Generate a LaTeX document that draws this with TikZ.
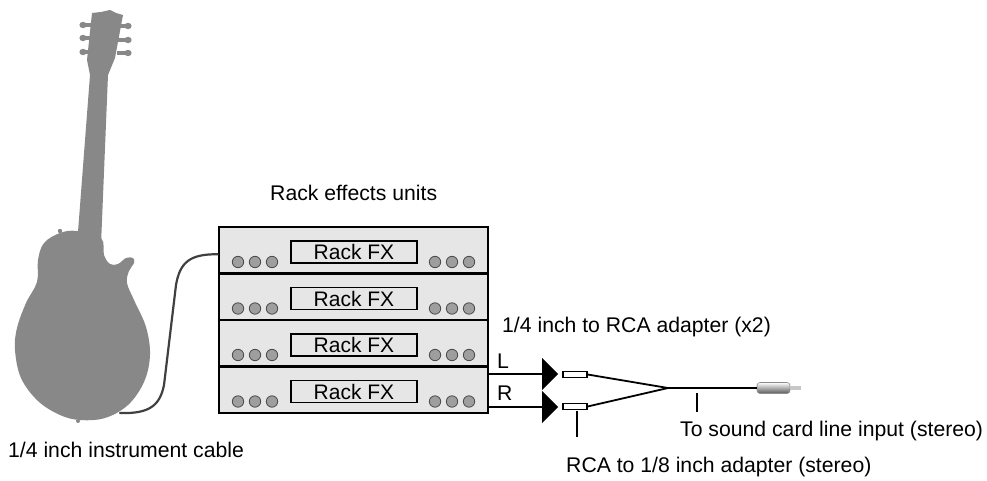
\documentclass[tikz,border=0pt]{standalone}
\usepackage{fontspec}
\setmainfont{Liberation Sans}
\usetikzlibrary{arrows.meta}
\definecolor{guitargray}{RGB}{136,136,136}
\definecolor{rackfill}{RGB}{230,230,230}
\definecolor{knobgray}{RGB}{158,158,158}
\tikzset{
  lbl/.style={font=\fontsize{21.2}{25}\selectfont,inner sep=0pt,anchor=base west},
  fxunit/.style={draw,line width=2.4pt,fill=rackfill,minimum width=269pt,minimum height=46.5pt,inner sep=0pt},
  fxlabel/.style={draw,line width=1.1pt,minimum width=126pt,minimum height=22pt,inner sep=0pt,font=\fontsize{21}{24}\selectfont},
  knob/.style={fill=knobgray,draw=black!70,line width=0.8pt},
  rca/.style={draw,fill=white,line width=1.2pt,minimum width=24pt,minimum height=6pt,inner sep=0pt},
  plugbody/.style={draw=black!45,line width=0.6pt,rounded corners=3pt,minimum width=33pt,minimum height=11pt,inner sep=0pt,
    top color=white,middle color=white,bottom color=black!65},
  leader/.style={line width=1.1pt},
  cable/.style={line width=2.2pt,black!75,line cap=round}
}
\begin{document}
\begin{tikzpicture}[x=1pt,y=-1pt]
  \useasboundingbox (0,0) rectangle (987,481);
  % guitar silhouette
  \fill[guitargray] plot[smooth cycle,tension=0.6] coordinates {(77,231) (60,233) (44,243) (38,260) (37,282) (26,303) (17,328)
    (15,350) (21,378) (38,401) (60,415) (80,420) (105,418) (128,405) (144,382) (150,355) (146,327) (134,300) (127,283)
    (129,271) (134,263) (133,258) (126,258) (118,264) (110,264) (104,255) (101,238)};
  \fill[guitargray] (77,245) -- (90,75) -- (87,60) -- (92,13) -- (101,12) -- (110,10) -- (116,13) -- (123,15)
    -- (115,58) -- (108,75) -- (101,245) -- cycle;
  \foreach \y in {25,38,52}{
    \fill[guitargray] (83,\y) ellipse (3.6 and 3.2);
    \fill[guitargray] (83,\y-1.6) rectangle (92,\y+1.6);
  }
  \foreach \y in {26,40,53}{
    \fill[guitargray] (128,\y) ellipse (3.6 and 3.2);
    \fill[guitargray] (117,\y-1.6) rectangle (128,\y+1.6);
  }
  \fill[guitargray] (60,231) circle (2.2) (78,421) circle (2);
  \node[lbl] (cablelbl) at (8,457) {1/4 inch instrument cable};

  % rack
  \node[lbl] (racklbl) at (270,200.7) {Rack effects units};
  \foreach \i in {1,...,4}{
    \pgfmathsetmacro\unittop{227+46.5*(\i-1)}
    \node[fxunit] (fx\i) at (353.5,\unittop+23.25) {};
    \node[fxlabel] (lbl\i) at (354,\unittop+25) {Rack FX};
    \foreach \dx in {-115.5,-98.5,-81.5,81.5,98.5,115.5}
      \draw[knob] (353.5+\dx,\unittop+35) circle (5.7);
  }
  \draw[cable] (120,413) coordinate (jack) .. controls (150,414) and (160,405) .. (164,385) -- (176,285)
    .. controls (180,262) and (190,254) .. ([yshift=-4pt]fx1.west);

  % left and right outputs
  \coordinate (outL) at (fx4.east |- 0,374);
  \coordinate (outR) at (fx4.east |- 0,407);
  \coordinate (tipL) at (558,374);
  \coordinate (tipR) at (558,407);
  \draw[line width=1.4pt,-{Triangle[length=16pt,width=32pt]}] (outL) -- (tipL);
  \draw[line width=1.4pt,-{Triangle[length=16pt,width=32pt]}] (outR) -- (tipR);
  \node[lbl] (lL) at (497,368) {L};
  \node[lbl] (lR) at (497,400) {R};
  \node[lbl] (adlbl) at (502,332) {1/4 inch to RCA adapter (x2)};

  % rca to 1/8 inch lead
  \node[rca] (rcaL) at (575,374.5) {};
  \node[rca] (rcaR) at (575,406.5) {};
  \coordinate (split) at (668,388);
  \node[plugbody] (plug) at (773.5,388) {};
  \draw[line width=1.8pt] (rcaL.east) -- (split);
  \draw[line width=1.8pt] (rcaR.east) -- (split);
  \draw[line width=2.2pt] (split) -- (plug.west);
  \draw[line width=3.5pt,black!22] (plug.east) -- ++(11,0) coordinate (plugtip);

  \coordinate (tickA) at (697,393);
  \coordinate (tickB) at (577,411);
  \draw[leader] (tickA) -- ++(0,19);
  \draw[leader] (tickB) -- ++(0,26);
  \node[lbl] (soundlbl) at (680,436) {To sound card line input (stereo)};
  \node[lbl] (rcalbl) at (566,472) {RCA to 1/8 inch adapter (stereo)};
\end{tikzpicture}
\end{document}
